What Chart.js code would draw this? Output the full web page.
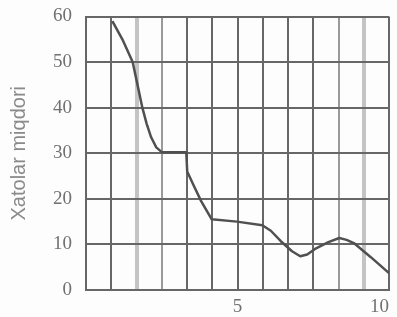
<!DOCTYPE html>
<html>
<head>
<meta charset="utf-8">
<script src="https://cdn.jsdelivr.net/npm/chart.js@4"></script>
<style>
  html, body { margin: 0; padding: 0; background: #fdfdfd; overflow: hidden; }
  #wrap { width: 397px; height: 332px; margin-top: -7px; }
</style>
</head>
<body>
<div id="wrap"><canvas id="c"></canvas></div>
<script>
// values
const errX = [0.87, 1.2, 1.54, 1.7, 1.86, 2.0, 2.15, 2.32, 2.51, 3.31, 3.34, 3.55, 3.8, 4.15, 4.98, 5.82, 6.1, 6.43, 6.8, 7.07, 7.3, 7.56, 8.0, 8.36, 8.6, 8.84, 9.4, 10];
const errY = [59, 55, 50, 45, 40, 36.5, 33.5, 31.3, 30.2, 30.2, 26, 23, 19.5, 15.5, 15, 14.2, 13, 10.7, 8.5, 7.4, 7.8, 9, 10.5, 11.4, 11, 10.3, 7.2, 3.7];
const yTicks = [0, 10, 20, 30, 40, 50, 60];
const xLabels = { 6: '5', 12: '10' };   // grid column index -> label
const yTitle = 'Xatolar miqdori';

const points = errX.map((x, i) => ({ x, y: errY[i] }));

// vertical grid: some lines in the scan come out pale/blurred
const vColor = (i) => (i === 2 || i === 11) ? '#c4c4c4' : (i === 3 || i === 10) ? '#9a9a9a' : '#676767';
const vWidth = (i) => (i === 2 || i === 11) ? 4 : 2;

new Chart(document.getElementById('c'), {
  type: 'line',
  data: {
    datasets: [{
      data: points,
      borderColor: '#505050',
      borderWidth: 2.5,
      borderJoinStyle: 'round',
      pointRadius: 0,
      tension: 0,
      fill: false,
    }],
  },
  options: {
    responsive: true,
    maintainAspectRatio: false,
    animation: false,
    layout: { padding: { top: 0, right: 0, left: 0, bottom: 0 } },
    plugins: { legend: { display: false }, tooltip: { enabled: false } },
    scales: {
      x: {
        type: 'linear',
        min: 0,
        max: 10,
        afterBuildTicks: (s) => { s.ticks = Array.from({ length: 13 }, (_, k) => ({ value: k * 10 / 12 })); },
        ticks: {
          autoSkip: false,
          maxRotation: 0,
          align: 'inner',
          padding: 8,
          color: '#707070',
          font: { family: 'Liberation Serif', size: 19, lineHeight: 1 },
          callback: (v, i) => xLabels[i] || '',
        },
        grid: {
          drawTicks: false,
          color: (ctx) => vColor(ctx.index),
          lineWidth: (ctx) => vWidth(ctx.index),
        },
        border: { color: '#676767', width: 2 },
      },
      y: {
        min: 0,
        max: 60,
        afterBuildTicks: (s) => { s.ticks = yTicks.map((v) => ({ value: v })); },
        ticks: {
          padding: 14,
          color: '#707070',
          font: { family: 'Liberation Serif', size: 19, lineHeight: 1 },
        },
        grid: { drawTicks: false, color: '#676767', lineWidth: 2 },
        border: { color: '#676767', width: 2 },
        title: {
          display: true,
          text: yTitle,
          color: '#8a8a8a',
          font: { family: 'Liberation Sans', size: 20, lineHeight: 1.2 },
          padding: { top: 7, bottom: 8 },
        },
      },
    },
  },
});
</script>
</body>
</html>
